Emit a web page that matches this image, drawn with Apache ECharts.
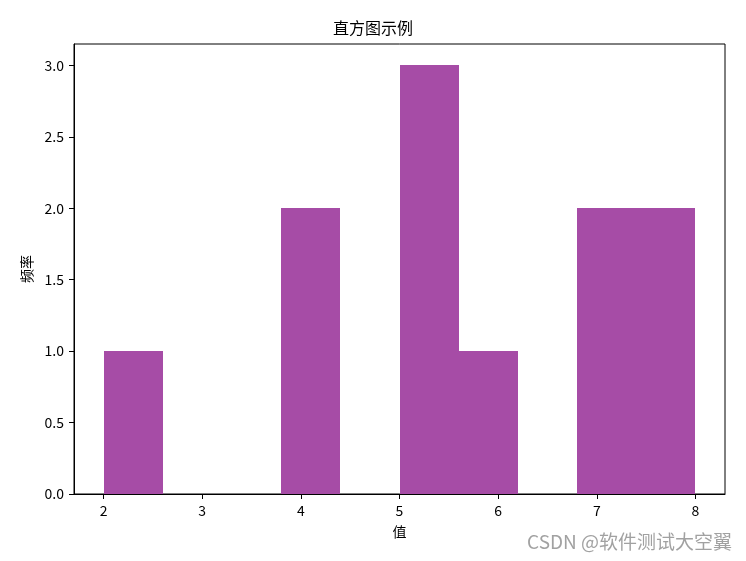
<!DOCTYPE html>
<html>
<head>
<meta charset="utf-8">
<script src="https://cdn.jsdelivr.net/npm/echarts@6/dist/echarts.min.js"></script>
<style>html,body{margin:0;padding:0;background:#fff;}#c{width:746px;height:561px;}</style>
</head>
<body>
<div id="c"></div>
<script>
const binStarts = [2.0, 2.6, 3.2, 3.8, 4.4, 5.0, 5.6, 6.2, 6.8, 7.4];
const binEnds   = [2.6, 3.2, 3.8, 4.4, 5.0, 5.6, 6.2, 6.8, 7.4, 8.0];
const counts    = [1, 0, 0, 2, 0, 3, 1, 0, 2, 2];
const xTicks = [2, 3, 4, 5, 6, 7, 8];
const yTicks = [0, 0.5, 1.0, 1.5, 2.0, 2.5, 3.0];
const titleText = '直方图示例';
const xName = '值';
const yName = '频率';

const font = '"Noto Sans CJK SC", "DejaVu Sans", sans-serif';
const chart = echarts.init(document.getElementById('c'));
const data = binStarts.map((s, i) => [s, binEnds[i], counts[i]]);
chart.setOption({
  animation: false,
  backgroundColor: '#fff',
  title: {
    text: titleText, left: 'center', top: 15,
    textStyle: { fontFamily: font, fontSize: 16, fontWeight: 'normal', color: '#000' }
  },
  grid: { left: 74, right: 21, top: 44, bottom: 67, show: true, borderColor: '#000', borderWidth: 1, backgroundColor: 'transparent' },
  xAxis: {
    type: 'value', min: 1.7, max: 8.3,
    name: xName, nameLocation: 'middle', nameGap: 31,
    nameTextStyle: { fontFamily: font, fontSize: 14, color: '#000' },
    axisLine: { show: true, lineStyle: { color: '#000' } },
    axisTick: { show: true, length: 5, lineStyle: { color: '#000' }, customValues: xTicks },
    axisLabel: { fontFamily: font, fontSize: 14, color: '#000', margin: 10, customValues: xTicks, formatter: v => String(v) },
    splitLine: { show: false }
  },
  yAxis: {
    type: 'value', min: 0, max: 3.15,
    name: yName, nameLocation: 'middle', nameGap: 40, nameRotate: 90,
    nameTextStyle: { fontFamily: font, fontSize: 14, color: '#000' },
    axisLine: { show: true, lineStyle: { color: '#000' } },
    axisTick: { show: true, length: 5, lineStyle: { color: '#000' }, customValues: yTicks },
    axisLabel: { fontFamily: font, fontSize: 14, color: '#000', margin: 10, customValues: yTicks, formatter: v => v.toFixed(1) },
    splitLine: { show: false }
  },
  series: [{
    type: 'custom',
    data: data,
    encode: { x: [0, 1], y: 2 },
    renderItem: function (params, api) {
      const p0 = api.coord([api.value(0), 0]);
      const p1 = api.coord([api.value(1), api.value(2)]);
      const x0 = Math.round(p0[0]), x1 = Math.round(p1[0]);
      const yb = Math.round(p0[1]), yt = Math.round(p1[1]);
      return {
        type: 'rect',
        shape: { x: x0, y: yt, width: x1 - x0, height: yb - yt },
        style: { fill: '#A64CA6' }
      };
    }
  }],
  graphic: [{
    type: 'text', right: 14, bottom: 10,
    style: { text: 'CSDN @软件测试大空翼', fontFamily: font, fontSize: 19, fill: 'rgba(130,130,130,0.75)' }
  }]
});
</script>
</body>
</html>
